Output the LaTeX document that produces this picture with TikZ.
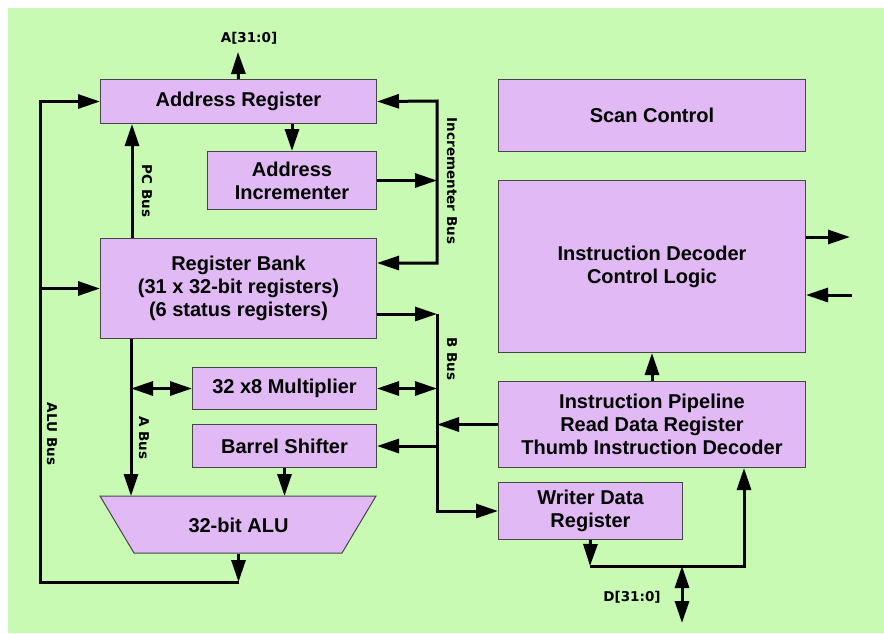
\documentclass[tikz,border=0pt]{standalone}
\usepackage{fontspec}
\setmainfont{Liberation Sans}
\newfontfamily\lblfont{DejaVu Sans}
\usetikzlibrary{arrows.meta,calc}
\definecolor{bggreen}{RGB}{200,250,180}
\definecolor{boxfill}{RGB}{224,185,245}
\definecolor{boxline}{RGB}{70,70,70}
\begin{document}
\begin{tikzpicture}[x=1pt,y=-1pt,
  >={Triangle[length=22pt,width=14pt]},
  box/.style={draw=boxline, fill=boxfill, line width=1pt, inner sep=0pt, align=center,
    font=\bfseries\fontsize{20}{23}\selectfont, anchor=north west},
  bus/.style={line width=3pt},
  buslbl/.style={font=\lblfont\bfseries\fontsize{13.5}{16}\selectfont, rotate=-90, inner sep=0pt},
  siglbl/.style={font=\lblfont\bfseries\fontsize{13.5}{16}\selectfont, inner sep=0pt},
]
\useasboundingbox (0,0) rectangle (884,633);
\fill[white] (0,0) rectangle (884,633);
\fill[bggreen] (8,8) rectangle (884,633);

% boxes
\node[box, minimum width=276, minimum height=44] (ar) at (100,79) {Address Register};
\node[box, minimum width=169, minimum height=58] (ai) at (207,151) {Address\\Incrementer};
\node[box, minimum width=276, minimum height=100] (rb) at (100,238) {Register Bank\\(31 x 32-bit registers)\\(6 status registers)};
\node[box, minimum width=184, minimum height=42] (mul) at (192,367) {32 x8 Multiplier};
\node[box, minimum width=184, minimum height=43] (bs) at (192,424) {Barrel Shifter};
\coordinate (alutl) at (100,496);
\coordinate (alutr) at (376,496);
\coordinate (alubr) at (342,553);
\coordinate (alubl) at (134,553);
\fill[boxfill, draw=boxline, line width=1pt] (alutl) -- (alutr) -- (alubr) -- (alubl) -- cycle;
\node[box, draw=none, fill=none, minimum width=276, minimum height=57] (alu) at (100,496) {32-bit ALU};
\node[box, minimum width=307, minimum height=72] (sc) at (498,79) {Scan Control};
\node[box, minimum width=307, minimum height=172] (id) at (498,180) {Instruction Decoder\\Control Logic};
\node[box, minimum width=307, minimum height=86] (ip) at (498,381) {Instruction Pipeline\\Read Data Register\\Thumb Instruction Decoder};
\node[box, minimum width=184, minimum height=57] (wdr) at (498,482) {Writer Data\\Register};

% coordinates
\coordinate (aout) at (238,52);
\coordinate (albl) at (40,582);
\coordinate (ibt) at (437,101);
\coordinate (ibb) at (437,263);
\coordinate (pcx) at (132,0);
\coordinate (abx) at (131,0);
\coordinate (bbt) at (437,314);
\coordinate (o1) at (850,237);
\coordinate (i1) at (852,295);
\coordinate (dl) at (590,566);
\coordinate (dr) at (744,566);
\coordinate (dt) at (682,566);
\coordinate (db) at (682,623);

% connectors
\draw[bus,->] (ar.north) -- (aout);
\draw[bus,->] (alu.south) -- (alu.south |- albl);
\draw[bus,->] (alu.south |- albl) -- (albl) -- (albl |- ar.west) -- (ar.west);
\draw[bus,->] (albl |- rb.west) -- (rb.west);
\draw[bus,->] (ar.south -| ai.north) -- (ai.north);
\draw[bus,<->] (ar.east) -- (ibt) -- (ibb) -- (rb.east |- ibb);
\draw[bus,->] (ai.east) -- (ai.east -| ibt);
\draw[bus,->] (rb.north -| pcx) -- (ar.south -| pcx);
\draw[bus,->] (rb.south -| abx) -- (alu.north -| abx);
\draw[bus,<->] (abx |- mul.west) -- (mul.west);
\draw[bus,->] (rb.east |- bbt) -- (bbt);
\draw[bus,->] (bbt) -- (bbt |- wdr.west) -- (wdr.west);
\draw[bus,<->] (mul.east) -- (mul.east -| bbt);
\draw[bus,->] (ip.west) -- (ip.west -| bbt);
\draw[bus,->] (bbt |- bs.east) -- (bs.east);
\draw[bus,->] (bs.south) -- (bs.south |- alu.north);
\draw[bus,->] (ip.north) -- (id.south);
\draw[bus,->] (id.east |- o1) -- (o1);
\draw[bus,->] (i1) -- (id.east |- i1);
\draw[bus,->] (wdr.south) -- (dl);
\draw[bus,->] (dl) -- (dr) -- (dr |- ip.south);
\draw[bus,<->] (dt) -- (db);

% labels
\node[siglbl] (alab) at (249,38) {A[31:0]};
\node[siglbl] (dlab) at (632,597) {D[31:0]};
\node[buslbl] (pclab) at (147,191) {PC Bus};
\node[buslbl] (iblab) at (452,181) {Incrementer Bus};
\node[buslbl] (bblab) at (452,359) {B Bus};
\node[buslbl] (alulab) at (52,434) {ALU Bus};
\node[buslbl] (ablab) at (144,438) {A Bus};
\end{tikzpicture}
\end{document}
